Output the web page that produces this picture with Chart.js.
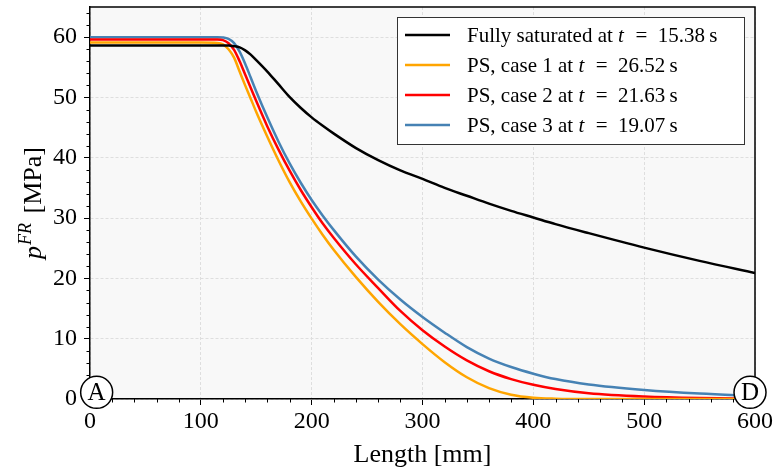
<!DOCTYPE html>
<html>
<head>
<meta charset="utf-8">
<script src="https://cdn.jsdelivr.net/npm/chart.js@4.4.1/dist/chart.umd.min.js"></script>
<style>
  html, body { margin: 0; padding: 0; background: #fff; }
  #wrap { width: 773px; height: 472px; }
</style>
</head>
<body>
<div id="wrap"><canvas id="pressureChart" width="773" height="472"></canvas></div>
<script>
// x positions along the fracture [mm]
const lengths = [0, 100, 115, 120, 125, 130, 135, 140, 145, 150, 160, 170, 180, 190, 200, 210, 220,
                 240, 260, 280, 300, 320, 340, 360, 380, 400, 420, 450, 500, 550, 600];

// p^FR [MPa] for each run
const fullySaturated = [58.6, 58.6, 58.6, 58.6, 58.6, 58.5, 58.3, 57.8, 57.1, 56.2, 54.3, 52.2, 50.1, 48.3, 46.7, 45.3, 44.0,
                        41.6, 39.6, 37.9, 36.5, 35.0, 33.7, 32.4, 31.2, 30.1, 29.0, 27.5, 25.1, 22.9, 20.9];
const psCase1 = [59.1, 59.1, 59.05, 58.8, 58.0, 56.6, 54.3, 52.0, 49.8, 47.6, 43.5, 39.6, 36.0, 32.8, 29.9, 27.2, 24.7,
                 20.2, 16.1, 12.4, 9.1, 6.1, 3.6, 1.8, 0.7, 0.2, 0.05, 0, 0, 0, 0];
const psCase2 = [59.6, 59.6, 59.6, 59.5, 59.0, 57.9, 56.0, 53.8, 51.6, 49.4, 45.2, 41.4, 37.9, 34.7, 31.8, 29.1, 26.7,
                 22.3, 18.4, 14.6, 11.4, 8.7, 6.4, 4.6, 3.3, 2.35, 1.65, 0.95, 0.4, 0.15, 0.05];
const psCase3 = [60.0, 60.0, 60.0, 59.95, 59.7, 59.0, 57.6, 55.6, 53.3, 51.0, 46.7, 42.7, 39.1, 35.9, 33.0, 30.4, 28.0,
                 23.6, 19.8, 16.5, 13.6, 11.0, 8.6, 6.7, 5.3, 4.2, 3.3, 2.4, 1.5, 0.9, 0.5];

const seriesLabels = ['Fully saturated at t = 15.38 s', 'PS, case 1 at t = 26.52 s',
                      'PS, case 2 at t = 21.63 s', 'PS, case 3 at t = 19.07 s'];
const seriesColors = ['#000000', '#ffa500', '#ff0000', '#4682b4'];

const xTicks = [0, 100, 200, 300, 400, 500, 600];
const yTicks = [0, 10, 20, 30, 40, 50, 60];
const xMinorStep = 20;
const yMinorStep = 2;

// end point markers (A at the inlet, D at the tip)
const endMarkers = [{ text: 'A', x: 6, y: 1.1 }, { text: 'D', x: 595.5, y: 1.1 }];

const SERIF = "'Liberation Serif', 'DejaVu Serif', serif";

function toPoints(ys) {
    return lengths.map((x, i) => ({ x: x, y: ys[i] }));
}

// draws "... at t = ..." with an italic t and math-like spacing
function drawMathLabel(ctx, label, x, y, size) {
    const idx = label.indexOf(' t = ');
    const parts = idx < 0 ? [[label, false]] :
        [[label.slice(0, idx + 1), false], ['t', true],
         [label.slice(idx + 2).replace('= ', '=\u2002').replace(' s', '\u2009s').replace(/^ /, '\u2002'), false]];
    let cx = x;
    parts.forEach(p => {
        ctx.font = (p[1] ? 'italic ' : '') + size + 'px ' + SERIF;
        ctx.fillText(p[0], cx, y);
        cx += ctx.measureText(p[0]).width + (p[1] ? 1 : 0);
    });
}

const decorPlugin = {
    id: 'decor',
    beforeDraw(chart) {
        const { ctx, chartArea: a } = chart;
        ctx.save();
        ctx.fillStyle = '#ffffff';
        ctx.fillRect(0, 0, chart.width, chart.height);
        ctx.fillStyle = '#f8f8f8';
        ctx.fillRect(a.left, a.top, a.right - a.left, a.bottom - a.top);
        ctx.restore();
    },
    afterDraw(chart) {
        const { ctx, chartArea: a, scales } = chart;
        ctx.save();

        // frame: top and right spines
        ctx.strokeStyle = '#000';
        ctx.lineWidth = 1.5;
        ctx.beginPath();
        ctx.moveTo(a.left, a.top);
        ctx.lineTo(a.right, a.top);
        ctx.lineTo(a.right, a.bottom);
        ctx.stroke();

        // minor ticks
        ctx.lineWidth = 1;
        ctx.beginPath();
        for (let v = 0; v <= 600; v += xMinorStep) {
            if (v % 100 === 0) continue;
            const px = Math.round(scales.x.getPixelForValue(v)) + 0.5;
            ctx.moveTo(px, a.bottom);
            ctx.lineTo(px, a.bottom + 3.5);
        }
        for (let v = 0; v <= 64; v += yMinorStep) {
            if (v % 10 === 0) continue;
            const py = Math.round(scales.y.getPixelForValue(v)) + 0.5;
            ctx.moveTo(a.left, py);
            ctx.lineTo(a.left - 3.5, py);
        }
        ctx.stroke();

        // y axis title  p^{FR} [MPa]
        ctx.save();
        ctx.translate(33, (a.top + a.bottom) / 2);
        ctx.rotate(-Math.PI / 2);
        ctx.fillStyle = '#000';
        ctx.textBaseline = 'alphabetic';
        const fMain = '26px ' + SERIF, fIt = 'italic 26px ' + SERIF, fSup = 'italic 18px ' + SERIF;
        ctx.font = fIt; const wP = ctx.measureText('p').width + 1;
        ctx.font = fSup; const wS = ctx.measureText('FR').width + 3;
        ctx.font = fMain; const wM = ctx.measureText(' [MPa]').width;
        let tx = -(wP + wS + wM) / 2;
        const base = 8;
        ctx.font = fIt; ctx.fillText('p', tx, base); tx += wP;
        ctx.font = fSup; ctx.fillText('FR', tx, base - 10); tx += wS;
        ctx.font = fMain; ctx.fillText(' [MPa]', tx, base);
        ctx.restore();

        // legend box
        const lx = 397, ly = 17, lw = 347, lh = 127;
        ctx.fillStyle = '#ffffff';
        ctx.fillRect(lx, ly, lw, lh);
        ctx.strokeStyle = '#333';
        ctx.lineWidth = 1;
        ctx.strokeRect(lx + 0.5, ly + 0.5, lw, lh);
        chart.data.datasets.forEach((ds, i) => {
            const ry = ly + 18 + i * 30;
            ctx.strokeStyle = ds.borderColor;
            ctx.lineWidth = 2.5;
            ctx.beginPath();
            ctx.moveTo(405, ry);
            ctx.lineTo(450, ry);
            ctx.stroke();
            ctx.fillStyle = '#000';
            ctx.textBaseline = 'middle';
            drawMathLabel(ctx, ds.label, 467, ry + 1, 21);
        });

        // A / D markers
        endMarkers.forEach(m => {
            const px = scales.x.getPixelForValue(m.x);
            const py = scales.y.getPixelForValue(m.y);
            ctx.beginPath();
            ctx.arc(px, py, 16, 0, Math.PI * 2);
            ctx.fillStyle = '#ffffff';
            ctx.fill();
            ctx.strokeStyle = '#000';
            ctx.lineWidth = 1.5;
            ctx.stroke();
            ctx.fillStyle = '#000';
            ctx.font = '25px ' + SERIF;
            ctx.textAlign = 'center';
            ctx.textBaseline = 'middle';
            ctx.fillText(m.text, px, py + 1);
        });
        ctx.restore();
    }
};

const allSeries = [fullySaturated, psCase1, psCase2, psCase3];

new Chart(document.getElementById('pressureChart'), {
    type: 'line',
    data: {
        datasets: allSeries.map((ys, i) => ({
            label: seriesLabels[i],
            data: toPoints(ys),
            borderColor: seriesColors[i],
            backgroundColor: seriesColors[i],
            borderWidth: 2.5,
            pointRadius: 0,
            fill: false,
            cubicInterpolationMode: 'monotone'
        }))
    },
    options: {
        responsive: false,
        animation: false,
        devicePixelRatio: 1,
        layout: { padding: { top: 7, right: 18, left: 0, bottom: 0 } },
        plugins: {
            legend: { display: false },
            tooltip: { enabled: false }
        },
        scales: {
            x: {
                type: 'linear',
                min: 0,
                max: 600,
                afterBuildTicks: s => { s.ticks = xTicks.map(v => ({ value: v })); },
                afterFit: s => { s.height = 73; s.paddingLeft = 0; s.paddingRight = 0; },
                grid: { color: '#dedede', lineWidth: 1, tickColor: '#000', tickLength: 6 },
                border: { display: true, color: '#000', width: 1.5, dash: [3, 2] },
                ticks: { color: '#000', font: { family: SERIF, size: 24 }, padding: 2, maxRotation: 0, autoSkip: false },
                title: { display: true, text: 'Length [mm]', color: '#000',
                         font: { family: SERIF, size: 26 }, padding: { top: 0, bottom: 1 } }
            },
            y: {
                type: 'linear',
                min: 0,
                max: 65,
                afterBuildTicks: s => { s.ticks = yTicks.map(v => ({ value: v })); },
                afterFit: s => { s.width = 90; s.paddingTop = 0; s.paddingBottom = 0; },
                grid: { color: '#dedede', lineWidth: 1, tickColor: '#000', tickLength: 6 },
                border: { display: true, color: '#000', width: 1.5, dash: [3, 2] },
                ticks: { color: '#000', font: { family: SERIF, size: 24 }, padding: 7 }
            }
        }
    },
    plugins: [decorPlugin]
});
</script>
</body>
</html>
